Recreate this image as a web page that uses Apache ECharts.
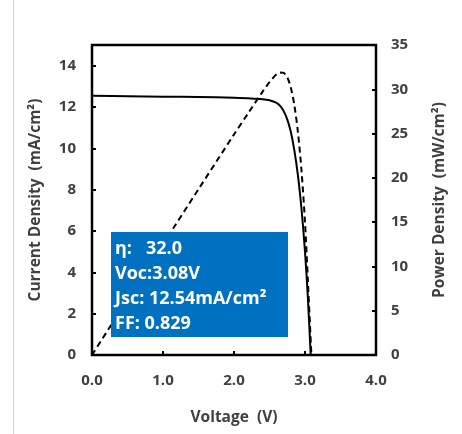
<!DOCTYPE html>
<html><head><meta charset="utf-8">
<script src="https://cdn.jsdelivr.net/npm/echarts@6/dist/echarts.min.js"></script>
<style>html,body{margin:0;padding:0;background:#fff}#c{width:462px;height:434px}</style>
</head><body><div id="c"></div>
<script>
const voltage = [0, 0.5, 1.0, 1.5, 2.0, 2.2, 2.4, 2.5, 2.6, 2.65, 2.7, 2.75, 2.8, 2.85, 2.9, 2.95, 3.0, 3.04, 3.08];
const currentDensity = [12.54, 12.52, 12.5, 12.48, 12.45, 12.42, 12.38, 12.33, 12.2, 12.05, 11.8, 11.4, 10.8, 9.9, 8.7, 7.1, 5.0, 2.8, 0];
const powerVoltage = [0, 0.5, 1.0, 1.5, 2.0, 2.2, 2.4, 2.5, 2.6, 2.65, 2.7, 2.75, 2.8, 2.85, 2.9, 2.95, 3.0, 3.04, 3.09];
const powerDensity = [0, 6.26, 12.5, 18.72, 24.9, 27.3, 29.7, 30.8, 31.7, 31.9, 31.85, 31.35, 30.2, 28.2, 25.2, 20.9, 15.0, 8.5, 0];
const xTicks = [0, 1, 2, 3, 4];
const boxLines = ['η:   32.0', 'Voc:3.08V', 'Jsc: 12.54mA/cm²', 'FF: 0.829'];

const FONT = 'Open Sans';
const TXT = '#404040';
const chart = echarts.init(document.getElementById('c'), null, {renderer: 'canvas'});
const tickStyle = {show: true, inside: true, length: 4, lineStyle: {color: '#000', width: 2}};
const labelStyle = {color: TXT, fontFamily: FONT, fontWeight: 'bold', fontSize: 15};
const nameStyle = {color: TXT, fontFamily: FONT, fontWeight: 'bold', fontSize: 15.5};
chart.setOption({
  animation: false,
  grid: {left: 92, right: 86, top: 45, bottom: 79, show: true, borderColor: '#000', borderWidth: 2.5, backgroundColor: 'transparent'},
  xAxis: {
    type: 'value', min: xTicks[0], max: xTicks[xTicks.length - 1], interval: 1,
    name: 'Voltage  (V)', nameLocation: 'middle', nameGap: 55, nameTextStyle: nameStyle,
    axisLine: {show: false}, axisTick: tickStyle, splitLine: {show: false},
    axisLabel: Object.assign({margin: 18, formatter: v => v.toFixed(1)}, labelStyle)
  },
  yAxis: [{
    type: 'value', min: 0, max: 15, interval: 2, position: 'left',
    name: 'Current Density  (mA/cm²)', nameLocation: 'middle', nameGap: 48, nameTextStyle: nameStyle,
    axisLine: {show: false}, axisTick: tickStyle, splitLine: {show: false},
    axisLabel: Object.assign({margin: 16, showMaxLabel: false, formatter: v => (v > 14 ? '' : String(v))}, labelStyle)
  }, {
    type: 'value', min: 0, max: 35, interval: 5, position: 'right',
    name: 'Power Density  (mW/cm²)', nameLocation: 'middle', nameGap: 56, nameTextStyle: nameStyle,
    axisLine: {show: false}, axisTick: tickStyle, splitLine: {show: false},
    axisLabel: Object.assign({margin: 15}, labelStyle)
  }],
  series: [{
    type: 'line', yAxisIndex: 0, smooth: 0.3, showSymbol: false, z: 2,
    data: voltage.map((v, i) => [v, currentDensity[i]]),
    lineStyle: {color: '#000', width: 2}
  }, {
    type: 'line', yAxisIndex: 1, smooth: 0.3, showSymbol: false, z: 2,
    data: powerVoltage.map((v, i) => [v, powerDensity[i]]),
    lineStyle: {color: '#000', width: 2, type: [6, 4]}
  }],
  graphic: [
    {type: 'line', shape: {x1: 13.5, y1: 0, x2: 13.5, y2: 434}, style: {stroke: '#d0d0d0', lineWidth: 1}, z: 1},
    {type: 'rect', left: 111, top: 232, z: 100, shape: {width: 177, height: 105}, style: {fill: '#0070C0'}},
    ...boxLines.map((t, i) => ({type: 'text', left: 115, top: 240 + i * 24.8, z: 101,
      style: {text: t, fill: '#fff', font: 'bold 18px "' + FONT + '"'}}))
  ]
});
</script></body></html>
